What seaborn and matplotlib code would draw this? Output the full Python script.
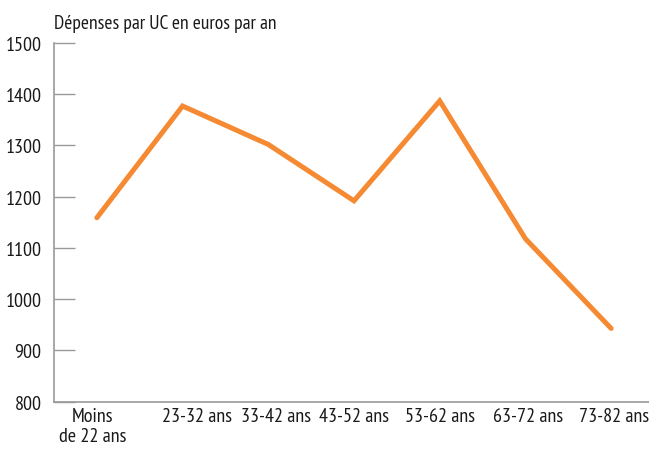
import matplotlib
matplotlib.use("Agg")
import matplotlib.pyplot as plt
import matplotlib.transforms as mtransforms
import seaborn as sns
import pandas as pd

categories = ["Moins\nde 22 ans", "23-32 ans", "33-42 ans", "43-52 ans", "53-62 ans", "63-72 ans", "73-82 ans"]
values = [1159, 1377, 1302, 1192, 1387, 1118, 943]
yticks = [800, 900, 1000, 1100, 1200, 1300, 1400, 1500]
title = "Dépenses par UC en euros par an"

sns.set_theme(style="white")
plt.rcParams['font.family'] = ['PT Sans Narrow', 'DejaVu Sans']

df = pd.DataFrame({"cat": categories, "val": values})

fig = plt.figure(figsize=(6.49, 4.52), dpi=100)
ax = fig.add_axes([54/649, 1 - 402.7/452, 600/649, (402.7 - 44)/452])
sns.lineplot(data=df, x="cat", y="val", ax=ax, color="#F58A32", linewidth=3.6,
             solid_capstyle="round", solid_joinstyle="miter", sort=False)

ax.set_xlim(-0.5, 6.5)
ax.set_ylim(800, 1500)
ax.set_yticks(yticks)
ax.set_yticklabels([str(t) for t in yticks], fontsize=14.5, color="#1a1a1a")
ax.set_xticks(range(len(categories)))
ax.set_xticklabels(categories, fontsize=14.5, color="#1a1a1a", linespacing=1.1)
ax.set_xticks([i + 0.5 for i in range(len(categories) - 1)], minor=True)
ax.tick_params(axis="x", which="major", length=0, pad=4)
ax.tick_params(axis="x", which="minor", direction="in", length=8, width=1, color="#999999")
ax.tick_params(axis="y", direction="in", length=15, width=1, color="#999999", pad=9, left=True)
ax.set_xlabel("")
ax.set_ylabel("")
for s in ["top", "right"]:
    ax.spines[s].set_visible(False)
for s in ["left", "bottom"]:
    ax.spines[s].set_color("#999999")
    ax.spines[s].set_linewidth(1.2)

# small horizontal label offsets seen in the reference (pixels)
shifts = [-4, 14, 8, 0, 0, 3, 3]
for lab, dx in zip(ax.get_xticklabels(), shifts):
    lab.set_transform(lab.get_transform() + mtransforms.ScaledTranslation(dx / 100, 0, fig.dpi_scale_trans))

fig.text(54/649, 1 - 29/452, title, fontsize=14, color="#1a1a1a", ha="left", va="baseline")

fig.savefig("out.png", dpi=100)
